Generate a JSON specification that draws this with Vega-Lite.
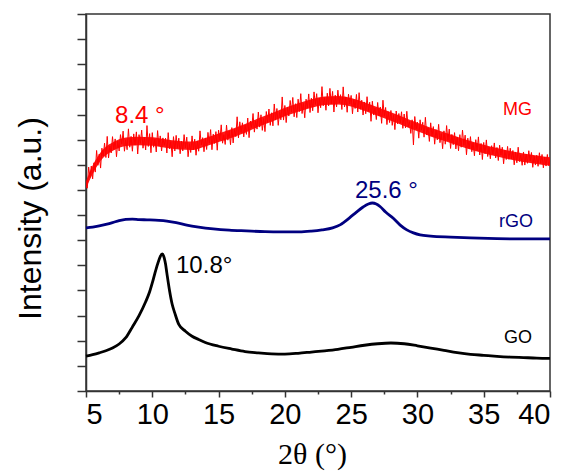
{
"$schema": "https://vega.github.io/schema/vega-lite/v6.json",
"width": 464, "height": 377,
"autosize": "none",
"padding": {"left": 86, "top": 14, "right": 23, "bottom": 83},
"background": "white",
"config": {"view": {"stroke": "#333", "strokeWidth": 1.5}, "font": "Liberation Sans"},
"datasets": {
"mg": [
{"x":5.0,"y":8.15},{"x":5.1,"y":8.07},{"x":5.2,"y":8.91},{"x":5.3,"y":8.50},{"x":5.4,"y":8.95},{"x":5.5,"y":8.44},{"x":5.6,"y":9.08},{"x":5.7,"y":8.71},{"x":5.8,"y":9.57},{"x":5.9,"y":8.98},
{"x":6.0,"y":9.43},{"x":6.1,"y":8.87},{"x":6.2,"y":9.66},{"x":6.3,"y":9.35},{"x":6.4,"y":9.86},{"x":6.5,"y":9.29},{"x":6.6,"y":10.13},{"x":6.7,"y":9.27},{"x":6.8,"y":9.75},{"x":6.9,"y":9.47},
{"x":7.0,"y":10.12},{"x":7.1,"y":9.60},{"x":7.2,"y":10.03},{"x":7.3,"y":9.32},{"x":7.4,"y":9.94},{"x":7.5,"y":9.55},{"x":7.6,"y":10.20},{"x":7.7,"y":9.82},{"x":7.8,"y":10.34},{"x":7.9,"y":9.54},
{"x":8.0,"y":10.00},{"x":8.1,"y":9.60},{"x":8.2,"y":10.43},{"x":8.3,"y":9.70},{"x":8.4,"y":10.13},{"x":8.5,"y":9.54},{"x":8.6,"y":10.23},{"x":8.7,"y":9.78},{"x":8.8,"y":10.31},{"x":8.9,"y":9.43},
{"x":9.0,"y":10.20},{"x":9.1,"y":9.85},{"x":9.2,"y":10.38},{"x":9.3,"y":9.66},{"x":9.4,"y":10.09},{"x":9.5,"y":9.59},{"x":9.6,"y":10.56},{"x":9.7,"y":9.73},{"x":9.8,"y":10.24},{"x":9.9,"y":9.48},
{"x":10.0,"y":10.28},{"x":10.1,"y":9.70},{"x":10.2,"y":10.03},{"x":10.3,"y":9.51},{"x":10.4,"y":10.36},{"x":10.5,"y":9.75},{"x":10.6,"y":10.15},{"x":10.7,"y":9.55},{"x":10.8,"y":10.07},{"x":10.9,"y":9.77},
{"x":11.0,"y":10.06},{"x":11.1,"y":9.47},{"x":11.2,"y":10.28},{"x":11.3,"y":9.64},{"x":11.4,"y":9.93},{"x":11.5,"y":9.32},{"x":11.6,"y":10.12},{"x":11.7,"y":9.55},{"x":11.8,"y":10.17},{"x":11.9,"y":9.66},
{"x":12.0,"y":10.06},{"x":12.1,"y":9.44},{"x":12.2,"y":9.94},{"x":12.3,"y":9.55},{"x":12.4,"y":10.20},{"x":12.5,"y":9.67},{"x":12.6,"y":10.10},{"x":12.7,"y":9.32},{"x":12.8,"y":9.84},{"x":12.9,"y":9.49},
{"x":13.0,"y":10.15},{"x":13.1,"y":9.59},{"x":13.2,"y":10.02},{"x":13.3,"y":9.38},{"x":13.4,"y":9.95},{"x":13.5,"y":9.54},{"x":13.6,"y":10.35},{"x":13.7,"y":9.79},{"x":13.8,"y":10.08},{"x":13.9,"y":9.52},
{"x":14.0,"y":10.07},{"x":14.1,"y":9.61},{"x":14.2,"y":10.29},{"x":14.3,"y":9.86},{"x":14.4,"y":10.40},{"x":14.5,"y":9.60},{"x":14.6,"y":10.22},{"x":14.7,"y":9.85},{"x":14.8,"y":10.32},{"x":14.9,"y":9.58},
{"x":15.0,"y":10.38},{"x":15.1,"y":9.98},{"x":15.2,"y":10.59},{"x":15.3,"y":9.86},{"x":15.4,"y":10.20},{"x":15.5,"y":9.81},{"x":15.6,"y":10.58},{"x":15.7,"y":9.98},{"x":15.8,"y":10.35},{"x":15.9,"y":9.80},
{"x":16.0,"y":10.48},{"x":16.1,"y":9.87},{"x":16.2,"y":10.41},{"x":16.3,"y":10.12},{"x":16.4,"y":10.91},{"x":16.5,"y":10.07},{"x":16.6,"y":10.71},{"x":16.7,"y":10.29},{"x":16.8,"y":10.67},{"x":16.9,"y":10.11},
{"x":17.0,"y":10.59},{"x":17.1,"y":10.21},{"x":17.2,"y":10.86},{"x":17.3,"y":10.08},{"x":17.4,"y":10.74},{"x":17.5,"y":10.48},{"x":17.6,"y":11.04},{"x":17.7,"y":10.30},{"x":17.8,"y":10.75},{"x":17.9,"y":10.42},
{"x":18.0,"y":11.10},{"x":18.1,"y":10.50},{"x":18.2,"y":10.99},{"x":18.3,"y":10.37},{"x":18.4,"y":10.84},{"x":18.5,"y":10.32},{"x":18.6,"y":11.12},{"x":18.7,"y":10.68},{"x":18.8,"y":11.22},{"x":18.9,"y":10.57},
{"x":19.0,"y":11.07},{"x":19.1,"y":10.55},{"x":19.2,"y":11.42},{"x":19.3,"y":10.78},{"x":19.4,"y":11.24},{"x":19.5,"y":10.57},{"x":19.6,"y":11.11},{"x":19.7,"y":10.79},{"x":19.8,"y":11.70},{"x":19.9,"y":10.78},
{"x":20.0,"y":11.36},{"x":20.1,"y":10.68},{"x":20.2,"y":11.28},{"x":20.3,"y":10.94},{"x":20.4,"y":11.56},{"x":20.5,"y":11.10},{"x":20.6,"y":11.68},{"x":20.7,"y":10.91},{"x":20.8,"y":11.43},{"x":20.9,"y":10.88},
{"x":21.0,"y":11.61},{"x":21.1,"y":11.12},{"x":21.2,"y":11.83},{"x":21.3,"y":11.04},{"x":21.4,"y":11.44},{"x":21.5,"y":10.87},{"x":21.6,"y":11.61},{"x":21.7,"y":11.26},{"x":21.8,"y":11.82},{"x":21.9,"y":11.08},
{"x":22.0,"y":11.65},{"x":22.1,"y":11.15},{"x":22.2,"y":11.90},{"x":22.3,"y":11.40},{"x":22.4,"y":11.83},{"x":22.5,"y":11.07},{"x":22.6,"y":11.66},{"x":22.7,"y":11.27},{"x":22.8,"y":12.11},{"x":22.9,"y":11.35},
{"x":23.0,"y":11.67},{"x":23.1,"y":11.17},{"x":23.2,"y":11.85},{"x":23.3,"y":11.34},{"x":23.4,"y":12.04},{"x":23.5,"y":11.42},{"x":23.6,"y":11.92},{"x":23.7,"y":11.10},{"x":23.8,"y":11.77},{"x":23.9,"y":11.30},
{"x":24.0,"y":11.97},{"x":24.1,"y":11.46},{"x":24.2,"y":11.79},{"x":24.3,"y":11.20},{"x":24.4,"y":12.10},{"x":24.5,"y":11.30},{"x":24.6,"y":11.70},{"x":24.7,"y":11.09},{"x":24.8,"y":11.81},{"x":24.9,"y":11.42},
{"x":25.0,"y":11.76},{"x":25.1,"y":11.03},{"x":25.2,"y":11.60},{"x":25.3,"y":11.24},{"x":25.4,"y":11.80},{"x":25.5,"y":11.10},{"x":25.6,"y":11.87},{"x":25.7,"y":11.21},{"x":25.8,"y":11.57},{"x":25.9,"y":10.98},
{"x":26.0,"y":11.50},{"x":26.1,"y":11.03},{"x":26.2,"y":11.71},{"x":26.3,"y":11.13},{"x":26.4,"y":11.49},{"x":26.5,"y":10.73},{"x":26.6,"y":11.53},{"x":26.7,"y":10.98},{"x":26.8,"y":11.26},{"x":26.9,"y":10.80},
{"x":27.0,"y":11.48},{"x":27.1,"y":10.94},{"x":27.2,"y":11.30},{"x":27.3,"y":10.65},{"x":27.4,"y":11.57},{"x":27.5,"y":10.93},{"x":27.6,"y":11.28},{"x":27.7,"y":10.60},{"x":27.8,"y":11.11},{"x":27.9,"y":10.68},
{"x":28.0,"y":11.16},{"x":28.1,"y":10.57},{"x":28.2,"y":10.99},{"x":28.3,"y":10.40},{"x":28.4,"y":11.14},{"x":28.5,"y":10.63},{"x":28.6,"y":11.04},{"x":28.7,"y":10.66},{"x":28.8,"y":11.11},{"x":28.9,"y":10.45},
{"x":29.0,"y":11.02},{"x":29.1,"y":10.47},{"x":29.2,"y":11.13},{"x":29.3,"y":10.50},{"x":29.4,"y":10.72},{"x":29.5,"y":10.25},{"x":29.6,"y":10.79},{"x":29.7,"y":9.79},{"x":29.8,"y":10.92},{"x":29.9,"y":10.41},
{"x":30.0,"y":10.70},{"x":30.1,"y":10.06},{"x":30.2,"y":10.79},{"x":30.3,"y":10.38},{"x":30.4,"y":10.69},{"x":30.5,"y":10.10},{"x":30.6,"y":10.89},{"x":30.7,"y":10.19},{"x":30.8,"y":10.47},{"x":30.9,"y":9.93},
{"x":31.0,"y":10.67},{"x":31.1,"y":10.14},{"x":31.2,"y":10.52},{"x":31.3,"y":9.82},{"x":31.4,"y":10.40},{"x":31.5,"y":9.99},{"x":31.6,"y":10.61},{"x":31.7,"y":9.88},{"x":31.8,"y":10.24},{"x":31.9,"y":9.64},
{"x":32.0,"y":10.35},{"x":32.1,"y":9.82},{"x":32.2,"y":10.56},{"x":32.3,"y":9.97},{"x":32.4,"y":10.42},{"x":32.5,"y":9.65},{"x":32.6,"y":10.21},{"x":32.7,"y":9.80},{"x":32.8,"y":10.28},{"x":32.9,"y":9.63},
{"x":33.0,"y":10.10},{"x":33.1,"y":9.56},{"x":33.2,"y":10.20},{"x":33.3,"y":9.70},{"x":33.4,"y":10.38},{"x":33.5,"y":9.77},{"x":33.6,"y":10.18},{"x":33.7,"y":9.40},{"x":33.8,"y":10.06},{"x":33.9,"y":9.64},
{"x":34.0,"y":10.12},{"x":34.1,"y":9.52},{"x":34.2,"y":9.88},{"x":34.3,"y":9.36},{"x":34.4,"y":10.00},{"x":34.5,"y":9.56},{"x":34.6,"y":10.11},{"x":34.7,"y":9.39},{"x":34.8,"y":9.85},{"x":34.9,"y":9.21},
{"x":35.0,"y":9.89},{"x":35.1,"y":9.44},{"x":35.2,"y":9.99},{"x":35.3,"y":9.33},{"x":35.4,"y":9.70},{"x":35.5,"y":9.24},{"x":35.6,"y":9.76},{"x":35.7,"y":9.41},{"x":35.8,"y":9.87},{"x":35.9,"y":9.27},
{"x":36.0,"y":9.69},{"x":36.1,"y":9.17},{"x":36.2,"y":9.78},{"x":36.3,"y":9.38},{"x":36.4,"y":9.70},{"x":36.5,"y":9.04},{"x":36.6,"y":9.58},{"x":36.7,"y":9.21},{"x":36.8,"y":9.73},{"x":36.9,"y":9.22},
{"x":37.0,"y":9.66},{"x":37.1,"y":9.23},{"x":37.2,"y":9.57},{"x":37.3,"y":9.00},{"x":37.4,"y":9.51},{"x":37.5,"y":9.08},{"x":37.6,"y":9.70},{"x":37.7,"y":9.13},{"x":37.8,"y":9.40},{"x":37.9,"y":8.98},
{"x":38.0,"y":9.51},{"x":38.1,"y":8.99},{"x":38.2,"y":9.43},{"x":38.3,"y":9.06},{"x":38.4,"y":9.56},{"x":38.5,"y":9.14},{"x":38.6,"y":9.49},{"x":38.7,"y":8.90},{"x":38.8,"y":9.35},{"x":38.9,"y":8.99},
{"x":39.0,"y":9.38},{"x":39.1,"y":8.94},{"x":39.2,"y":9.48},{"x":39.3,"y":9.06},{"x":39.4,"y":9.41},{"x":39.5,"y":8.88},{"x":39.6,"y":9.31},{"x":39.7,"y":8.95},{"x":39.8,"y":9.41},{"x":39.9,"y":8.97},{"x":40.0,"y":9.18}
],
"mgcore": [
{"x":5.0,"lo":8.05,"hi":8.35},{"x":5.5,"lo":8.63,"hi":8.97},{"x":6.0,"lo":9.08,"hi":9.42},{"x":6.5,"lo":9.38,"hi":9.72},{"x":7.0,"lo":9.55,"hi":9.89},{"x":8.0,"lo":9.75,"hi":10.09},{"x":9.0,"lo":9.78,"hi":10.12},{"x":10.0,"lo":9.76,"hi":10.10},{"x":11.0,"lo":9.68,"hi":10.02},{"x":12.0,"lo":9.61,"hi":9.95},{"x":13.0,"lo":9.59,"hi":9.93},{"x":14.0,"lo":9.73,"hi":10.07},{"x":15.0,"lo":9.91,"hi":10.25},{"x":16.0,"lo":10.08,"hi":10.42},{"x":17.0,"lo":10.28,"hi":10.62},{"x":18.0,"lo":10.51,"hi":10.85},{"x":19.0,"lo":10.71,"hi":11.05},{"x":20.0,"lo":10.93,"hi":11.27},{"x":21.0,"lo":11.11,"hi":11.45},{"x":22.0,"lo":11.27,"hi":11.61},{"x":23.0,"lo":11.38,"hi":11.72},{"x":24.0,"lo":11.40,"hi":11.74},{"x":25.0,"lo":11.32,"hi":11.66},{"x":26.0,"lo":11.15,"hi":11.49},{"x":27.0,"lo":10.95,"hi":11.29},{"x":28.0,"lo":10.75,"hi":11.09},{"x":29.0,"lo":10.54,"hi":10.88},{"x":30.0,"lo":10.33,"hi":10.67},{"x":31.0,"lo":10.13,"hi":10.47},{"x":32.0,"lo":9.96,"hi":10.30},{"x":33.0,"lo":9.78,"hi":10.12},{"x":34.0,"lo":9.61,"hi":9.95},{"x":35.0,"lo":9.46,"hi":9.80},{"x":36.0,"lo":9.33,"hi":9.67},{"x":37.0,"lo":9.21,"hi":9.55},{"x":38.0,"lo":9.11,"hi":9.45},{"x":39.0,"lo":9.03,"hi":9.37},{"x":40.0,"lo":8.96,"hi":9.30}
],
"rgo": [
{"x":5.0,"y":6.49},{"x":5.5,"y":6.52},{"x":6.0,"y":6.57},{"x":6.5,"y":6.63},{"x":7.0,"y":6.70},{"x":7.5,"y":6.78},{"x":8.0,"y":6.83},{"x":8.5,"y":6.84},{"x":9.0,"y":6.82},{"x":9.6,"y":6.81},{"x":10.5,"y":6.79},{"x":11.1,"y":6.76},{"x":11.8,"y":6.70},{"x":12.6,"y":6.60},{"x":13.5,"y":6.52},{"x":14.6,"y":6.45},{"x":15.8,"y":6.40},{"x":17.1,"y":6.37},{"x":18.5,"y":6.34},{"x":19.6,"y":6.33},{"x":21.1,"y":6.33},{"x":22.0,"y":6.36},{"x":22.8,"y":6.41},{"x":23.6,"y":6.49},{"x":24.2,"y":6.62},{"x":24.9,"y":6.90},{"x":25.4,"y":7.12},{"x":25.9,"y":7.32},{"x":26.3,"y":7.44},{"x":26.6,"y":7.48},{"x":26.9,"y":7.44},{"x":27.2,"y":7.33},{"x":27.6,"y":7.12},{"x":28.2,"y":6.86},{"x":28.7,"y":6.60},{"x":29.2,"y":6.41},{"x":29.7,"y":6.29},{"x":30.2,"y":6.21},{"x":31.0,"y":6.16},{"x":32.5,"y":6.12},{"x":34.0,"y":6.09},{"x":36.0,"y":6.06},{"x":38.0,"y":6.05},{"x":40.0,"y":6.05}
],
"go": [
{"x":5.0,"y":1.39},{"x":5.5,"y":1.45},{"x":6.0,"y":1.52},{"x":6.5,"y":1.60},{"x":7.0,"y":1.71},{"x":7.5,"y":1.87},{"x":8.0,"y":2.12},{"x":8.5,"y":2.55},{"x":9.0,"y":3.00},{"x":9.5,"y":3.55},{"x":9.8,"y":3.95},{"x":10.0,"y":4.30},{"x":10.2,"y":4.69},{"x":10.4,"y":5.05},{"x":10.6,"y":5.35},{"x":10.75,"y":5.45},{"x":10.9,"y":5.30},{"x":11.0,"y":5.05},{"x":11.1,"y":4.69},{"x":11.3,"y":4.00},{"x":11.5,"y":3.45},{"x":11.7,"y":3.10},{"x":12.0,"y":2.65},{"x":12.5,"y":2.38},{"x":13.0,"y":2.18},{"x":13.5,"y":2.05},{"x":14.0,"y":1.93},{"x":15.0,"y":1.78},{"x":16.0,"y":1.67},{"x":17.0,"y":1.57},{"x":18.0,"y":1.52},{"x":19.0,"y":1.48},{"x":20.0,"y":1.47},{"x":21.0,"y":1.50},{"x":22.0,"y":1.55},{"x":23.0,"y":1.60},{"x":24.0,"y":1.66},{"x":25.0,"y":1.74},{"x":26.0,"y":1.82},{"x":27.0,"y":1.88},{"x":28.0,"y":1.91},{"x":29.0,"y":1.88},{"x":30.0,"y":1.80},{"x":31.0,"y":1.71},{"x":32.0,"y":1.62},{"x":33.0,"y":1.53},{"x":34.0,"y":1.46},{"x":35.0,"y":1.42},{"x":36.0,"y":1.38},{"x":37.0,"y":1.35},{"x":38.0,"y":1.33},{"x":39.0,"y":1.31},{"x":40.0,"y":1.30}
],
"peaks": [
{"s":"MG","t":"8.4 °","x":7.19,"y":10.66},
{"s":"rGO","t":"25.6 °","x":25.29,"y":7.68},
{"s":"GO","t":"10.8°","x":11.79,"y":4.69}
],
"names": [
{"s":"MG","t":"MG","x":36.46,"y":10.98},
{"s":"rGO","t":"rGO","x":36.15,"y":6.53},
{"s":"GO","t":"GO","x":36.53,"y":1.91}
]
},
"layer": [
{
"data": {"name": "mgcore"},
"mark": {"type": "area", "color": "#ff0000", "opacity": 0.9, "interpolate": "monotone"},
"encoding": {
"x": {"field": "x", "type": "quantitative", "scale": {"domain": [5, 40], "nice": false, "zero": false},
"axis": {"values": [5,7.5,10,12.5,15,17.5,20,22.5,25,27.5,30,32.5,35,37.5,40], "tickCount": 30,
"labelExpr": "datum.value % 5 === 0 ? datum.label : ''",
"tickSize": {"condition": {"test": "datum.value % 5 === 0", "value": 6}, "value": 3},
"labelFontSize": 29, "labelColor": "#000", "labelPadding": 3, "labelFont": "Liberation Sans",
"domainColor": "#333", "domainWidth": 1.5, "tickColor": "#333", "tickWidth": 1.5, "grid": false,
"title": "2θ (°)", "titleFont": "Liberation Serif", "titleFontSize": 30, "titleFontWeight": "normal", "titleColor": "#000",
"titleBaseline": "alphabetic", "titleY": 72, "titleX": 226}},
"y": {"field": "lo", "type": "quantitative", "scale": {"domain": [0, 15], "nice": false, "zero": false},
"axis": {"values": [0,1,2,3,4,5,6,7,8,9,10,11,12,13,14,15], "tickCount": 30, "labels": false, "tickSize": 9,
"domainColor": "#333", "domainWidth": 1.5, "tickColor": "#333", "tickWidth": 1.5, "grid": false,
"title": "Intensity (a.u.)", "titleFont": "Liberation Sans", "titleFontSize": 32, "titleFontWeight": "normal", "titleColor": "#000",
"titleX": -56, "titleY": 204, "titleBaseline": "middle"}},
"y2": {"field": "hi"}
}
},
{
"data": {"name": "mg"},
"mark": {"type": "line", "color": "#ff0000", "strokeWidth": 1, "clip": true},
"encoding": {"x": {"field": "x", "type": "quantitative"}, "y": {"field": "y", "type": "quantitative"}}
},
{
"data": {"name": "rgo"},
"mark": {"type": "line", "color": "#000080", "strokeWidth": 2.8, "interpolate": "monotone"},
"encoding": {"x": {"field": "x", "type": "quantitative"}, "y": {"field": "y", "type": "quantitative"}}
},
{
"data": {"name": "go"},
"mark": {"type": "line", "color": "#000000", "strokeWidth": 2.8, "interpolate": "monotone"},
"encoding": {"x": {"field": "x", "type": "quantitative"}, "y": {"field": "y", "type": "quantitative"}}
},
{
"data": {"name": "peaks"},
"mark": {"type": "text", "align": "left", "baseline": "alphabetic", "fontSize": 24, "font": "Liberation Sans"},
"encoding": {"x": {"field": "x", "type": "quantitative"}, "y": {"field": "y", "type": "quantitative"}, "text": {"field": "t"},
"color": {"field": "s", "type": "nominal", "scale": {"domain": ["MG","rGO","GO"], "range": ["#ff0000","#000080","#000000"]}, "legend": null}}
},
{
"data": {"name": "names"},
"mark": {"type": "text", "align": "left", "baseline": "alphabetic", "fontSize": 18, "font": "Liberation Sans"},
"encoding": {"x": {"field": "x", "type": "quantitative"}, "y": {"field": "y", "type": "quantitative"}, "text": {"field": "t"},
"color": {"field": "s", "type": "nominal", "scale": {"domain": ["MG","rGO","GO"], "range": ["#ff0000","#000080","#000000"]}, "legend": null}}
}
]
}
